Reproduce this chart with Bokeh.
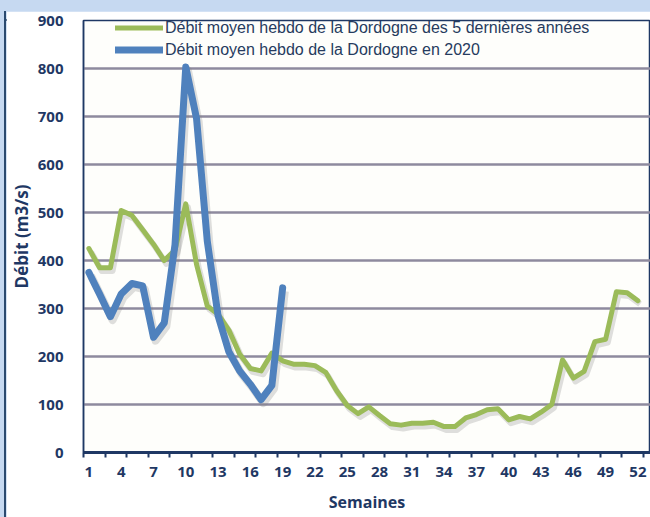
from bokeh.plotting import figure
from bokeh.layouts import column, row
from bokeh.models import (Range1d, FixedTicker, Legend, LegendItem, ColumnDataSource,
                          GlobalInlineStyleSheet, Spacer, Div)
from bokeh.transform import dodge
from bokeh.embed import file_html
from bokeh.resources import INLINE

# ---- data ----
weeks_5y = list(range(1, 53))
flow_5y = [425, 385, 385, 504, 494, 464, 434, 400, 422, 518,
           392, 305, 288, 255, 205, 175, 170, 207, 191, 184,
           184, 181, 167, 129, 98, 81, 95, 77, 60, 57,
           61, 61, 63, 54, 54, 72, 79, 89, 91, 68,
           75, 70, 84, 100, 193, 155, 169, 231, 236, 335,
           333, 316]
weeks_2020 = list(range(1, 20))
flow_2020 = [375, 330, 283, 330, 352, 347, 240, 270, 433, 803,
             696, 440, 285, 210, 170, 142, 110, 140, 343]
x_tick_weeks = list(range(1, 53, 3))
y_ticks = [0, 100, 200, 300, 400, 500, 600, 700, 800, 900]
legend_labels = ["Débit moyen hebdo de la Dordogne des 5 dernières années",
                 "Débit moyen hebdo de la Dordogne en 2020"]
x_title = "Semaines"
y_title = "Débit (m3/s)"

NAVY = "#1f3864"
FRAME = "#2b4a6f"
GREEN = "#9bbb59"
BLUE = "#4f81bd"
FONT = "Open Sans"

fig = figure(width=644, height=506, output_backend="svg", toolbar_location=None,
             x_range=Range1d(0.5, 53.17), y_range=Range1d(0, 900),
             min_border_left=77, min_border_right=0, min_border_top=9,
             min_border_bottom=65, margin=0,
             background_fill_color="#fefefb", border_fill_color="white",
             outline_line_color=NAVY, outline_line_width=1.5)

src5 = ColumnDataSource(dict(w=weeks_5y, q=flow_5y))
src20 = ColumnDataSource(dict(w=weeks_2020, q=flow_2020))

# soft shadows
fig.line(x=dodge("w", 0.2), y=dodge("q", -7), source=src5, line_color="#808080",
         line_alpha=0.25, line_width=6, line_join="round")
fig.line(x=dodge("w", 0.2), y=dodge("q", -7), source=src20, line_color="#808080",
         line_alpha=0.25, line_width=8, line_join="round")

g = fig.line(x="w", y="q", source=src5, line_color=GREEN, line_width=5,
             line_join="round", line_cap="round")
b = fig.line(x="w", y="q", source=src20, line_color=BLUE, line_width=7,
             line_join="round", line_cap="round")

# y axis
fig.yaxis.ticker = FixedTicker(ticks=y_ticks)
fig.ygrid.ticker = FixedTicker(ticks=y_ticks)
fig.ygrid.grid_line_color = "#8e8a9e"
fig.ygrid.grid_line_width = 2.5
fig.xgrid.grid_line_color = None
fig.yaxis.axis_line_color = NAVY
fig.yaxis.axis_line_width = 1.5
fig.yaxis.major_tick_line_color = None
fig.yaxis.minor_tick_line_color = None
fig.yaxis.major_label_standoff = 14
fig.yaxis.major_label_text_font = FONT
fig.yaxis.major_label_text_font_style = "bold"
fig.yaxis.major_label_text_font_size = "15px"
fig.yaxis.major_label_text_color = NAVY
fig.yaxis.axis_label = y_title
fig.yaxis.axis_label_standoff = 2
fig.yaxis.axis_label_text_font = FONT
fig.yaxis.axis_label_text_font_style = "bold"
fig.yaxis.axis_label_text_font_size = "17px"
fig.yaxis.axis_label_text_color = NAVY

# x axis
minor = [0.5 + 2 * i for i in range(27)]
fig.xaxis.ticker = FixedTicker(ticks=x_tick_weeks, minor_ticks=minor)
fig.xaxis.axis_line_color = NAVY
fig.xaxis.axis_line_width = 3
fig.xaxis.major_tick_line_color = None
fig.xaxis.minor_tick_line_color = NAVY
fig.xaxis.minor_tick_line_width = 2
fig.xaxis.minor_tick_in = 0
fig.xaxis.minor_tick_out = 5
fig.xaxis.major_label_standoff = 8
fig.xaxis.major_label_text_font = FONT
fig.xaxis.major_label_text_font_style = "bold"
fig.xaxis.major_label_text_font_size = "15px"
fig.xaxis.major_label_text_color = NAVY
fig.xaxis.axis_label = x_title
fig.xaxis.axis_label_standoff = 11
fig.xaxis.axis_label_text_font = FONT
fig.xaxis.axis_label_text_font_style = "bold"
fig.xaxis.axis_label_text_font_size = "16px"
fig.xaxis.axis_label_text_color = NAVY

legend = Legend(items=[LegendItem(label=legend_labels[0], renderers=[g]),
                       LegendItem(label=legend_labels[1], renderers=[b])],
                location=(32, 393), padding=0, margin=0, spacing=3,
                label_height=19, glyph_height=19, glyph_width=48,
                label_standoff=2, border_line_color=None,
                background_fill_alpha=0.0,
                label_text_font="Liberation Sans", label_text_font_size="16px",
                label_text_color="#263b5e")
fig.add_layout(legend)

hline = Div(text='<div style="width:646px;height:2px;background:%s"></div>' % FRAME,
            width=646, height=2, margin=0)
vline = Div(text='<div style="width:2px;height:506px;background:%s"></div>' % FRAME,
            width=2, height=506, margin=0)
p = column(Spacer(width=650, height=9, margin=0),
           row(Spacer(width=4, height=508, margin=0),
               column(hline, row(vline, fig, spacing=0), spacing=0),
               spacing=0),
           spacing=0)
p.stylesheets = [GlobalInlineStyleSheet(css="html,body{background:#c6d9f1;}")]

open("out.html", "w").write(file_html(p, INLINE))
